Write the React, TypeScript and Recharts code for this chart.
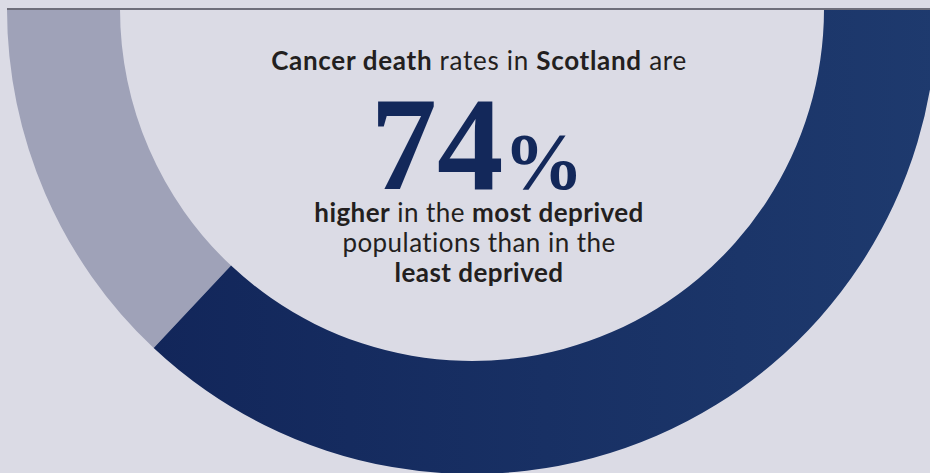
import { PieChart, Pie, Cell } from "recharts";

const segmentNames = ["Least deprived baseline", "Excess in most deprived"];
const segmentValues = [26, 74];
const segmentFills = ["#9fa2b8", "url(#navyGrad)"];

const data = segmentNames.map((name, i) => ({ name, value: segmentValues[i] }));

const sans = "Lato, 'Open Sans', sans-serif";
const dark = "#231f20";

const textLine = {
  position: "absolute" as const,
  left: 0,
  width: 958,
  lineHeight: "30px",
  fontSize: 26,
  letterSpacing: 0.45,
  color: dark,
  textAlign: "center" as const,
};

export default function App() {
  return (
    <div style={{ position: "fixed", top: 0, left: 0, width: 930, height: 473, background: "#dbdbe5", overflow: "hidden", fontFamily: sans }}>
      <div style={{ position: "absolute", top: 9, left: 0 }}>
        <PieChart width={930} height={464} margin={{ top: 0, right: 0, bottom: 0, left: 0 }}>
          <defs>
            <linearGradient id="navyGrad" x1="0" y1="0" x2="1" y2="0">
              <stop offset="0%" stopColor="#12265a" />
              <stop offset="100%" stopColor="#1e3a6e" />
            </linearGradient>
          </defs>
          <Pie
            data={data}
            dataKey="value"
            nameKey="name"
            cx={472}
            cy={0}
            innerRadius={352}
            outerRadius={465}
            startAngle={180}
            endAngle={360}
            stroke="none"
            isAnimationActive={false}
          >
            {data.map((entry, index) => (
              <Cell key={`cell-${index}`} fill={segmentFills[index]} />
            ))}
          </Pie>
        </PieChart>
      </div>
      <div style={{ position: "absolute", top: 8, left: 7, right: 0, height: 2, background: "#6e6e7a" }} />

      <div style={{ ...textLine, top: 45, letterSpacing: 0.7 }}>
        <b>Cancer death</b> rates in <b>Scotland</b> are
      </div>
      <div style={{ position: "absolute", left: 0, width: 954, top: 79, lineHeight: "131px", textAlign: "center", color: "#13285a", fontFamily: "'Liberation Serif', serif", fontWeight: 700 }}>
        <span style={{ fontSize: 133 }}>74</span>
        <span style={{ fontSize: 80 }}>%</span>
      </div>
      <div style={{ ...textLine, top: 197 }}>
        <div><b>higher</b> in the <b>most deprived</b></div>
        <div>populations than in the</div>
        <div><b>least deprived</b></div>
      </div>
    </div>
  );
}
